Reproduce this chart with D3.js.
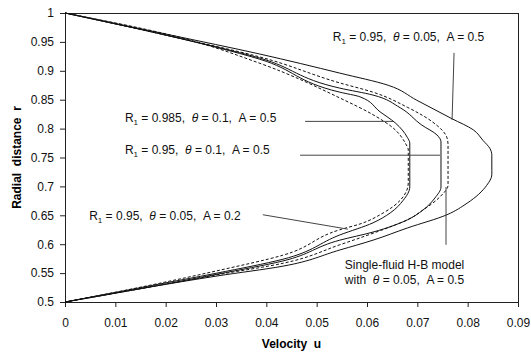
<!DOCTYPE html>
<html>
<head>
<meta charset="utf-8">
<script src="https://cdn.jsdelivr.net/npm/d3@7/dist/d3.min.js"></script>
<style>
    html, body { margin: 0; padding: 0; background: #fff; }
    svg { display: block; font-family: "Liberation Sans", Arial, sans-serif; }
</style>
</head>
<body>
<svg id="chart"></svg>
<script>
// --- Datos ---
const uTicks = [0, 0.01, 0.02, 0.03, 0.04, 0.05, 0.06, 0.07, 0.08, 0.09];
const rTicks = [0.5, 0.55, 0.6, 0.65, 0.7, 0.75, 0.8, 0.85, 0.9, 0.95, 1];

// R1 = 0.95, theta = 0.05, A = 0.5 (continua, exterior)
const r95t005a05U = [0, 0.0209, 0.0387, 0.0546, 0.0642, 0.0699, 0.0769, 0.0811, 0.0831, 0.0844, 0.0848, 0.0848, 0.0848, 0.0838, 0.0799, 0.0759, 0.0680, 0.0612, 0.0546, 0.0433, 0.0302, 0.0169, 0];
const r95t005a05R = [1, 0.962, 0.929, 0.896, 0.875, 0.849, 0.817, 0.798, 0.779, 0.766, 0.754, 0.728, 0.720, 0.702, 0.671, 0.651, 0.628, 0.607, 0.590, 0.562, 0.545, 0.526, 0.5];

// Single-fluid H-B, theta = 0.05, A = 0.5 (discontinua)
const hbU = [0, 0.0209, 0.0387, 0.0546, 0.0612, 0.0680, 0.0731, 0.0759, 0.0761, 0.0761, 0.0745, 0.0711, 0.0680, 0.0646, 0.0546, 0.0433, 0.0302, 0.0169, 0];
const hbR = [1, 0.960, 0.924, 0.879, 0.863, 0.837, 0.811, 0.784, 0.772, 0.702, 0.682, 0.659, 0.642, 0.630, 0.599, 0.567, 0.547, 0.526, 0.5];

// R1 = 0.95, theta = 0.1, A = 0.5 (continua)
const r95t01a05U = [0, 0.0209, 0.0387, 0.0546, 0.0612, 0.0666, 0.0709, 0.0739, 0.0747, 0.0747, 0.0735, 0.0711, 0.0680, 0.0612, 0.0546, 0.0433, 0.0302, 0.0169, 0];
const r95t01a05R = [1, 0.960, 0.922, 0.870, 0.858, 0.836, 0.806, 0.789, 0.777, 0.699, 0.680, 0.659, 0.642, 0.621, 0.607, 0.571, 0.548, 0.526, 0.5];

// R1 = 0.985, theta = 0.1, A = 0.5 (continua)
const r985t01a05U = [0, 0.0209, 0.0387, 0.0546, 0.0586, 0.0626, 0.0656, 0.0680, 0.0685, 0.0685, 0.0672, 0.0646, 0.0612, 0.0546, 0.0433, 0.0302, 0.0169, 0];
const r985t01a05R = [1, 0.960, 0.920, 0.863, 0.855, 0.829, 0.810, 0.785, 0.775, 0.699, 0.676, 0.654, 0.637, 0.616, 0.574, 0.550, 0.528, 0.5];

// R1 = 0.95, theta = 0.05, A = 0.2 (discontinua, interior)
const r95t005a02U = [0, 0.0209, 0.0387, 0.0546, 0.0612, 0.0652, 0.0676, 0.0682, 0.0682, 0.0666, 0.0632, 0.0586, 0.0546, 0.0433, 0.0302, 0.0169, 0];
const r95t005a02R = [1, 0.962, 0.913, 0.853, 0.824, 0.801, 0.775, 0.763, 0.706, 0.676, 0.654, 0.635, 0.625, 0.581, 0.554, 0.529, 0.5];

const series = [
    { u: r95t005a05U, r: r95t005a05R, dashed: false },
    { u: hbU, r: hbR, dashed: true },
    { u: r95t01a05U, r: r95t01a05R, dashed: false },
    { u: r985t01a05U, r: r985t01a05R, dashed: false },
    { u: r95t005a02U, r: r95t005a02R, dashed: true }
];

const width = 531;
const height = 353;
const margin = { top: 13, right: 13, bottom: 51, left: 65 };

const svg = d3.select("#chart")
    .attr("width", width)
    .attr("height", height);

const x = d3.scaleLinear().domain([0, 0.09]).range([margin.left, width - margin.right]);
const y = d3.scaleLinear().domain([0.5, 1]).range([height - margin.bottom, margin.top]);

// --- Ejes ---
const xAxis = svg.append("g")
    .attr("transform", `translate(0,${y(0.5)})`)
    .call(d3.axisBottom(x).tickValues(uTicks).tickSize(5).tickSizeOuter(0).tickPadding(11).tickFormat(d => String(d)));

const yAxis = svg.append("g")
    .attr("transform", `translate(${x(0)},0)`)
    .call(d3.axisLeft(y).tickValues(rTicks).tickSize(5).tickSizeOuter(0).tickPadding(6).tickFormat(d => String(d)));

[xAxis, yAxis].forEach(a => {
    a.select(".domain").remove();
    a.selectAll("line").attr("stroke", "#222");
    a.selectAll("text")
        .attr("fill", "#111")
        .style("font-size", "12px")
        .style("font-family", "'Liberation Sans', Arial, sans-serif");
});

// Marco del área de trazado
svg.append("rect")
    .attr("x", x(0))
    .attr("y", y(1))
    .attr("width", x(0.09) - x(0))
    .attr("height", y(0.5) - y(1))
    .attr("fill", "none")
    .attr("stroke", "#222")
    .attr("stroke-width", 1)
    .attr("shape-rendering", "crispEdges");

// Títulos de ejes
svg.append("text")
    .attr("xml:space", "preserve")
    .attr("x", (x(0) + x(0.09)) / 2)
    .attr("y", 348)
    .attr("text-anchor", "middle")
    .style("font-size", "12px")
    .style("font-weight", "bold")
    .text("Velocity  u");

svg.append("text")
    .attr("xml:space", "preserve")
    .attr("transform", `translate(21,${(y(0.5) + y(1)) / 2}) rotate(-90)`)
    .attr("text-anchor", "middle")
    .style("font-size", "12px")
    .style("font-weight", "bold")
    .text("Radial  distance  r");

// --- Curvas ---
const line = d3.line()
    .x(d => x(d[0]))
    .y(d => y(d[1]))
    .curve(d3.curveMonotoneY);

svg.append("g")
    .selectAll("path")
    .data(series)
    .join("path")
    .attr("d", d => line(d3.zip(d.u, d.r)))
    .attr("fill", "none")
    .attr("stroke", "#111")
    .attr("stroke-width", 1)
    .attr("stroke-dasharray", d => d.dashed ? "3,2" : null);

// --- Anotaciones ---
const ann = svg.append("g")
    .style("font-size", "12px")
    .attr("fill", "#111");

function paramLabel(u, r, r1, theta, a) {
    const t = ann.append("text")
        .attr("xml:space", "preserve")
        .attr("x", x(u))
        .attr("y", y(r));
    t.append("tspan").text("R");
    t.append("tspan").attr("dy", 3).style("font-size", "8px").text("1");
    t.append("tspan").attr("dy", -3).text(` = ${r1},  `);
    t.append("tspan").style("font-style", "italic").text("θ");
    t.append("tspan").text(` = ${theta},  A = ${a}`);
}

function pointer(u1, r1, u2, r2) {
    ann.append("line")
        .attr("x1", x(u1)).attr("y1", y(r1))
        .attr("x2", x(u2)).attr("y2", y(r2))
        .attr("stroke", "#444")
        .attr("stroke-width", 1);
}

paramLabel(0.0532, 0.9516, "0.95", "0.05", "0.5");
pointer(0.0773, 0.931, 0.0769, 0.815);

paramLabel(0.0119, 0.811, "0.985", "0.1", "0.5");
pointer(0.0477, 0.8125, 0.0652, 0.8125);

paramLabel(0.0119, 0.756, "0.95", "0.1", "0.5");
pointer(0.0467, 0.754, 0.0745, 0.754);

paramLabel(0.0048, 0.642, "0.95", "0.05", "0.2");
pointer(0.0393, 0.651, 0.0562, 0.626);

ann.append("text")
    .attr("x", x(0.0556))
    .attr("y", y(0.557))
    .text("Single-fluid H-B model");
const hbText = ann.append("text")
    .attr("xml:space", "preserve")
    .attr("x", x(0.0556))
    .attr("y", y(0.531));
hbText.append("tspan").text("with  ");
hbText.append("tspan").style("font-style", "italic").text("θ");
hbText.append("tspan").text(" = 0.05,  A = 0.5");
pointer(0.0757, 0.699, 0.0757, 0.599);
</script>
</body>
</html>
